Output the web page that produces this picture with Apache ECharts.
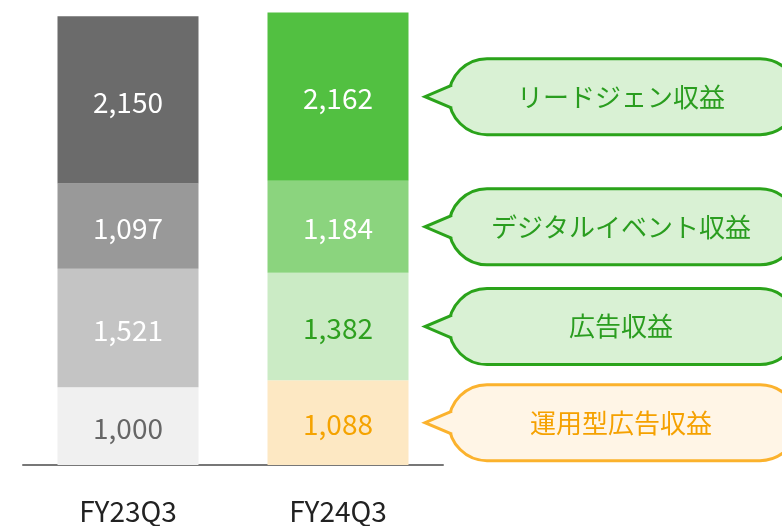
<!DOCTYPE html>
<html>
<head>
<meta charset="utf-8">
<script src="https://cdn.jsdelivr.net/npm/echarts@6/dist/echarts.min.js"></script>
<style>
html,body{margin:0;padding:0;background:#fff;}
#chart{width:782px;height:526px;}
</style>
</head>
<body>
<div id="chart"></div>
<script>
const categories = ['FY23Q3', 'FY24Q3'];
const seriesNames = ['運用型広告収益', '広告収益', 'デジタルイベント収益', 'リードジェン収益'];
const opAdRevenue = [1000, 1088];
const adRevenue = [1521, 1382];
const digitalEventRevenue = [1097, 1184];
const leadGenRevenue = [2150, 2162];
const calloutLabels = ['リードジェン収益', 'デジタルイベント収益', '広告収益', '運用型広告収益'];

const FONT = '"Noto Sans CJK JP", "Noto Sans", sans-serif';
const seriesData = [opAdRevenue, adRevenue, digitalEventRevenue, leadGenRevenue];
const barColors = [
  ['#f0f0f0', '#fde8c3'],
  ['#c4c4c4', '#cbebc5'],
  ['#999999', '#8bd47e'],
  ['#6b6b6b', '#52c041']
];
const labelColors = [
  ['#666666', '#f5a300'],
  ['#ffffff', '#2ea01f'],
  ['#ffffff', '#ffffff'],
  ['#ffffff', '#ffffff']
];
const fmt = v => v.toLocaleString('en-US');

const chart = echarts.init(document.getElementById('chart'));
chart.setOption({
  animation: false,
  backgroundColor: '#ffffff',
  grid: { left: 23, right: 339, top: 6, bottom: 61, containLabel: false, outerBoundsMode: 'none' },
  xAxis: {
    type: 'category',
    data: categories,
    axisLine: { lineStyle: { color: '#777777', width: 2 } },
    axisTick: { show: false },
    axisLabel: { color: '#222222', fontSize: 28, fontFamily: FONT, margin: 32 }
  },
  yAxis: { type: 'value', min: 0, max: 5900, show: false, splitLine: { show: false } },
  series: seriesData.map((arr, si) => ({
    name: seriesNames[si],
    type: 'bar',
    stack: 'total',
    barWidth: 141,
    data: arr.map((v, ci) => ({
      value: v,
      itemStyle: { color: barColors[si][ci] },
      label: { color: labelColors[si][ci] }
    })),
    label: {
      show: true,
      position: 'inside',
      fontSize: 28,
      fontFamily: FONT,
      offset: [0, 2],
      formatter: p => fmt(p.value)
    }
  }))
});

// callouts positioned at the middle of each FY24Q3 segment
const styles = {
  green: { stroke: '#2aa31a', fill: '#d9f1d4', text: '#2a9d1f' },
  orange: { stroke: '#fbb22d', fill: '#fff5e6', text: '#f5a100' }
};
const order = [3, 2, 1, 0]; // series index top to bottom
const graphics = [];
order.forEach((si, k) => {
  let below = 0;
  for (let j = 0; j < si; j++) below += seriesData[j][1];
  const mid = below + seriesData[si][1] / 2;
  const cy = chart.convertToPixel({ gridIndex: 0 }, [1, mid])[1];
  const st = si === 0 ? styles.orange : styles.green;
  const h = 76, r = 38, left = 449, right = 798, tipX = 425;
  graphics.push({
    type: 'rect',
    shape: { x: left, y: cy - h / 2, width: right - left, height: h, r: r },
    style: { fill: st.fill, stroke: st.stroke, lineWidth: 3 },
    z: 10
  });
  graphics.push({
    type: 'polygon',
    shape: { points: [[tipX + 2, cy], [458, cy - 13], [458, cy + 13]] },
    style: { fill: st.fill, stroke: null },
    z: 11
  });
  graphics.push({
    type: 'polyline',
    shape: { points: [[452, cy - 11.5], [tipX, cy], [452, cy + 11.5]] },
    style: { stroke: st.stroke, lineWidth: 3, fill: null, lineJoin: 'miter' },
    z: 12
  });
  graphics.push({
    type: 'text',
    x: 621, y: cy,
    style: {
      text: calloutLabels[k],
      fill: st.text,
      font: '26px ' + FONT,
      textAlign: 'center',
      textVerticalAlign: 'middle'
    },
    z: 13
  });
});
chart.setOption({ graphic: graphics });
</script>
</body>
</html>
